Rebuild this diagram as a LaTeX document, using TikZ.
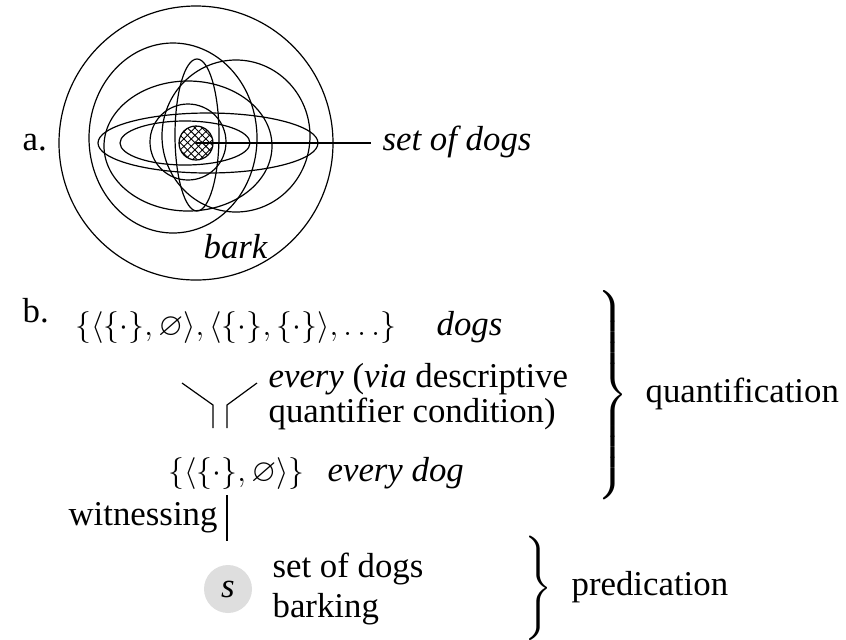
\documentclass[tikz,border=0pt]{standalone}
\usepackage{amssymb}
\usepackage{graphicx}
\usepackage{fontspec}
\setmainfont{Liberation Serif}
\usetikzlibrary{patterns.meta}
\begin{document}
\begin{tikzpicture}[x=0.5pt,y=-0.5pt,line width=0.6pt,
  txt/.style={inner sep=0pt,anchor=base west,font=\fontsize{17.4}{21}\selectfont},
  ring/.style={draw,line width=0.6pt},
  bracenode/.style={inner sep=0pt,font=\fontsize{17.4}{21}\selectfont}]
\useasboundingbox (0,0) rectangle (846,639);
% ---- part a
\node[txt] (a) at (22,150) {a.};
\draw[ring] (196,143) circle[radius=137];
\draw[ring] (173,138) ellipse[x radius=84,y radius=95];
\draw[ring] (236,136) ellipse[x radius=74,y radius=76];
\draw[ring] (188,146) ellipse[x radius=84,y radius=65];
\draw[ring] (188,142) circle[radius=38];
\draw[ring] (197,135) ellipse[x radius=22,y radius=76];
\draw[ring] (208,143) ellipse[x radius=110,y radius=30];
\draw[ring] (185,143) ellipse[x radius=65,y radius=22];
\coordinate (dc) at (196,143);
\fill[pattern={Lines[angle=45,distance=2.6pt,line width=0.45pt]}] (dc) circle[radius=17];
\fill[pattern={Lines[angle=-45,distance=2.6pt,line width=0.45pt]}] (dc) circle[radius=17];
\draw (dc) circle[radius=17];
\coordinate (le) at (371,143);
\draw (dc) -- (le);
\node[txt] (sod) at (382,150) {\textit{set of dogs}};
\node[txt] (bark) at (203,258) {\textit{bark}};
% ---- part b
\node[txt] (b) at (22,322) {b.};
\node[txt] (dogset) at (75,335) {\scalebox{0.92}{$\{\langle\{\cdot\},\varnothing\rangle,\langle\{\cdot\},\{\cdot\}\rangle,\ldots\}$}};
\node[txt] (dogs) at (436,335) {\textit{dogs}};
\coordinate (fl1) at (182,383);
\coordinate (fl2) at (213,405);
\coordinate (fl3) at (213,428);
\coordinate (fr1) at (257,383);
\coordinate (fr2) at (227,405);
\coordinate (fr3) at (227,428);
\draw (fl1) -- (fl2) -- (fl3);
\draw (fr1) -- (fr2) -- (fr3);
\node[txt] (ev1) at (268,387) {\textit{every} (\textit{via} descriptive};
\node[txt] (ev2) at (268,422) {quantifier condition)};
\node[txt] (evset) at (168,481) {\scalebox{0.92}{$\{\langle\{\cdot\},\varnothing\rangle\}$}};
\node[txt] (evdog) at (327,481) {\textit{every dog}};
\node[txt] (wit) at (68,525) {witnessing};
\coordinate (w1) at (227,495);
\coordinate (w2) at (227,541);
\draw (w1) -- (w2);
\node[circle,fill=black!13,minimum size=24pt,inner sep=0pt,font=\fontsize{17.4}{21}\selectfont] (s) at (228,589) {\textit{s}};
\node[txt] (sd) at (272,577) {set of dogs};
\node[txt] (bk) at (272,617) {barking};
\node[bracenode] (pb) at (537,588) {$\left.\vcenter{\hrule height 52pt width 0pt}\right\}$};
\node[txt] (pred) at (571,595) {predication};
\node[bracenode] (qb) at (612,395) {$\left.\vcenter{\hrule height 102pt width 0pt}\right\}$};
\node[txt] (quant) at (645,402) {quantification};
\end{tikzpicture}
\end{document}
